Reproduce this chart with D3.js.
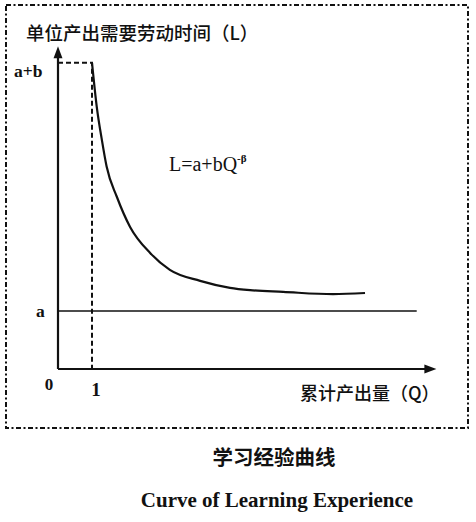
<!DOCTYPE html>
<html>
<head>
<meta charset="utf-8">
<script src="https://cdn.jsdelivr.net/npm/d3@7"></script>
<style>
  html, body { margin: 0; padding: 0; background: #fff; }
  svg { display: block; }
</style>
</head>
<body>
<svg id="chart" width="476" height="522"></svg>
<script>
// ---- data ----
const curveQ = [1, 1.14, 1.29, 1.43, 1.73, 2.12, 2.71, 3.29, 4.18, 5.06, 5.65, 6.62, 8.09, 9.03];
const curveL = [5.28, 4.52, 3.95, 3.49, 2.97, 2.45, 2.0, 1.71, 1.52, 1.40, 1.36, 1.33, 1.29, 1.31];
const levelA = 1;          // a
const levelAB = 5.28;      // a + b
const qOne = 1;            // Q = 1
const qMax = 11.1;         // end of x axis
const lMax = 5.53;         // end of y axis
const aLineEnd = 10.55;    // end of horizontal "a" line
const yTickLabels = ["a+b", "a"];
const xTickLabels = ["0", "1"];
const yTitle = "单位产出需要劳动时间（L）";
const xTitle = "累计产出量（Q）";
const captionCN = "学习经验曲线";
const captionEN = "Curve of Learning Experience";

// ---- scales ----
const x = d3.scaleLinear().domain([0, qOne]).range([58, 92]);
const y = d3.scaleLinear().domain([0, levelA]).range([369, 311]);

const svg = d3.select("#chart");
const serif = "'Liberation Serif', 'Times New Roman', serif";
const cjk = "'Noto Sans CJK SC', sans-serif";

// frame (dash-dot)
svg.append("rect")
  .attr("x", 6).attr("y", 5).attr("width", 462).attr("height", 423)
  .attr("fill", "none").attr("stroke", "#111").attr("stroke-width", 2)
  .attr("stroke-dasharray", "5,2.5,2,2.5");

// axes
const g = svg.append("g");
g.append("line")
  .attr("x1", x(0)).attr("y1", y(0)).attr("x2", x(0)).attr("y2", y(lMax) + 8)
  .attr("stroke", "#111").attr("stroke-width", 2.2);
g.append("path")
  .attr("d", `M${x(0)},${y(lMax) - 2} L${x(0) - 4.5},${y(lMax) + 10} L${x(0) + 4.5},${y(lMax) + 10} Z`)
  .attr("fill", "#111");
g.append("line")
  .attr("x1", x(0)).attr("y1", y(0)).attr("x2", x(qMax) - 8).attr("y2", y(0))
  .attr("stroke", "#111").attr("stroke-width", 2.2);
g.append("path")
  .attr("d", `M${x(qMax) + 1},${y(0)} L${x(qMax) - 11},${y(0) - 4.5} L${x(qMax) - 11},${y(0) + 4.5} Z`)
  .attr("fill", "#111");

// dashed guides
g.append("path")
  .attr("d", `M${x(0)},${y(levelAB)} L${x(qOne)},${y(levelAB)} L${x(qOne)},${y(0)}`)
  .attr("fill", "none").attr("stroke", "#111").attr("stroke-width", 2)
  .attr("stroke-dasharray", "5,3");

// a line
g.append("line")
  .attr("x1", x(0)).attr("y1", y(levelA)).attr("x2", x(aLineEnd)).attr("y2", y(levelA))
  .attr("stroke", "#111").attr("stroke-width", 1.6);

// curve
const pts = curveQ.map((q, i) => [q, curveL[i]]);
g.append("path")
  .datum(pts)
  .attr("d", d3.line().x(d => x(d[0])).y(d => y(d[1])).curve(d3.curveMonotoneX))
  .attr("fill", "none").attr("stroke", "#111").attr("stroke-width", 2.2);

// tick labels
svg.append("text").text(yTickLabels[0])
  .attr("x", 14).attr("y", y(levelAB) + 14)
  .attr("font-family", serif).attr("font-weight", "bold").attr("font-size", 17.5).attr("fill", "#111");
svg.append("text").text(yTickLabels[1])
  .attr("x", 36).attr("y", y(levelA) + 6)
  .attr("font-family", serif).attr("font-weight", "bold").attr("font-size", 17.5).attr("fill", "#111");
svg.append("text").text(xTickLabels[0])
  .attr("x", 49).attr("y", 390).attr("text-anchor", "middle")
  .attr("font-family", serif).attr("font-weight", "bold").attr("font-size", 17).attr("fill", "#111");
svg.append("text").text(xTickLabels[1])
  .attr("x", x(qOne) + 4).attr("y", 396).attr("text-anchor", "middle")
  .attr("font-family", serif).attr("font-weight", "bold").attr("font-size", 19).attr("fill", "#111");

// axis titles
svg.append("text").text(yTitle)
  .attr("x", 26).attr("y", 40)
  .attr("font-family", cjk).attr("font-weight", 500).attr("font-size", 18.5).attr("fill", "#111");
svg.append("text").text(xTitle)
  .attr("x", 300).attr("y", 400)
  .attr("font-family", cjk).attr("font-weight", 500).attr("font-size", 18).attr("fill", "#111");

// formula
const f = svg.append("text")
  .attr("x", 169).attr("y", 171)
  .attr("font-family", serif).attr("font-size", 20).attr("fill", "#111");
f.append("tspan").text("L=a+bQ");
f.append("tspan").text("-β").attr("font-size", 11).attr("dy", -9).attr("font-weight", "bold");

// captions
svg.append("text").text(captionCN)
  .attr("x", 274).attr("y", 465).attr("text-anchor", "middle")
  .attr("font-family", cjk).attr("font-weight", "bold").attr("font-size", 20.5).attr("fill", "#111");
svg.append("text").text(captionEN)
  .attr("x", 277).attr("y", 507).attr("text-anchor", "middle")
  .attr("font-family", serif).attr("font-weight", "bold").attr("font-size", 21).attr("fill", "#111");
</script>
</body>
</html>
